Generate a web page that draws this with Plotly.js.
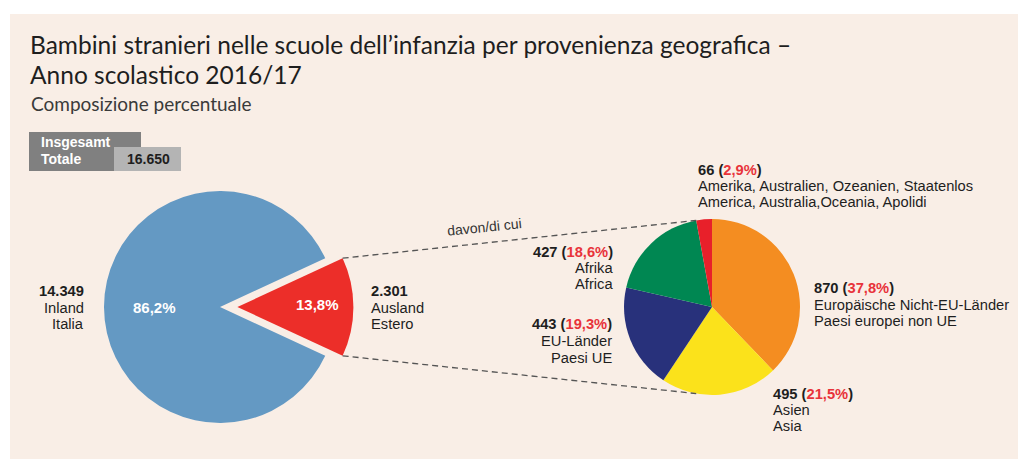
<!DOCTYPE html>
<html>
<head>
<meta charset="utf-8">
<script src="https://cdn.plot.ly/plotly-3.0.1.min.js"></script>
<style>html,body{margin:0;padding:0;background:#fff;}#chart{width:1018px;height:459px;}</style>
</head>
<body>
<div id="chart"></div>
<script>
// ---------- DATA ----------
const mainCategoriesDe = ['Inland', 'Ausland'];
const mainCategoriesIt = ['Italia', 'Estero'];
const mainValues = [14349, 2301];

const subCategoriesDe = ['Europäische Nicht-EU-Länder', 'Asien', 'EU-Länder', 'Afrika', 'Amerika, Australien, Ozeanien, Staatenlos'];
const subCategoriesIt = ['Paesi europei non UE', 'Asia', 'Paesi UE', 'Africa', 'America, Australia,Oceania, Apolidi'];
const subValues = [870, 495, 443, 427, 66];

const titleLines = ['Bambini stranieri nelle scuole dell’infanzia per provenienza geografica –', 'Anno scolastico 2016/17'];
const subtitleText = 'Composizione percentuale';
const totalLabelDe = 'Insgesamt';
const totalLabelIt = 'Totale';
const breakdownText = 'davon/di cui';

// ---------- STYLE / LAYOUT ----------
const W = 1018, H = 459;
const mainColors = ['#6499c3', '#ec2e29'];
const subColors = ['#f48d21', '#fbe21b', '#28317b', '#008752', '#e8202a'];
const pctRed = '#e8333a';
const labelFont = 'Liberation Sans, Arial, sans-serif';
const titleFont = 'Lato, Open Sans, sans-serif';
const labelSize = 14.7;

const main = {cx: 220, cy: 307, r: 116, pull: 0.15};
const sub = {cx: 712, cy: 307, r: 88};

function fx(x) { return x / W; }
function fy(y) { return 1 - y / H; }
function fmtInt(v) { return String(v).replace(/\B(?=(\d{3})+(?!\d))/g, '.'); }
function fmtPct(v, t) { return (100 * v / t).toFixed(1).replace('.', ',') + '%'; }

const mainTotal = mainValues.reduce((a, b) => a + b, 0);
const subTotal = subValues.reduce((a, b) => a + b, 0);

// Rotation so that the foreign share is centred at 3 o'clock
const shareForeign = mainValues[1] / mainTotal;
const mainRotation = 90 + 180 * shareForeign;

const mainSize = main.r * (1 + main.pull);
const traces = [
  {
    type: 'pie', values: mainValues, labels: mainCategoriesDe,
    marker: {colors: mainColors, line: {width: 0}},
    pull: [0, main.pull], sort: false, direction: 'clockwise', rotation: mainRotation,
    textinfo: 'none', hoverinfo: 'skip', showlegend: false,
    domain: {x: [fx(main.cx - mainSize), fx(main.cx + mainSize)], y: [fy(main.cy + mainSize), fy(main.cy - mainSize)]}
  },
  {
    type: 'pie', values: subValues, labels: subCategoriesDe,
    marker: {colors: subColors, line: {width: 0}},
    sort: false, direction: 'clockwise', rotation: 0,
    textinfo: 'none', hoverinfo: 'skip', showlegend: false,
    domain: {x: [fx(sub.cx - sub.r), fx(sub.cx + sub.r)], y: [fy(sub.cy + sub.r), fy(sub.cy - sub.r)]}
  }
];

// ---------- connector lines (from pie geometry) ----------
const halfAng = Math.PI * shareForeign; // half-angle of foreign slice
const tipX = main.cx + main.pull * main.r;
const p1 = [tipX + main.r * Math.cos(halfAng), main.cy - main.r * Math.sin(halfAng)];
const p2 = [tipX + main.r * Math.cos(halfAng), main.cy + main.r * Math.sin(halfAng)];
const lastAng = 2 * Math.PI * subValues[subValues.length - 1] / subTotal;
const q1 = [sub.cx - sub.r * Math.sin(lastAng), sub.cy - sub.r * Math.cos(lastAng)];
const q2 = [sub.cx - sub.r * Math.sin(lastAng), sub.cy + sub.r * Math.cos(lastAng)];

const shapes = [
  {type: 'rect', xref: 'paper', yref: 'paper', x0: fx(10), x1: fx(W), y0: fy(H), y1: fy(14), fillcolor: '#f9eee6', line: {width: 0}, layer: 'below'},
  {type: 'rect', xref: 'paper', yref: 'paper', x0: fx(29), x1: fx(141), y0: fy(171), y1: fy(132), fillcolor: '#808080', line: {width: 0}},
  {type: 'rect', xref: 'paper', yref: 'paper', x0: fx(114), x1: fx(181), y0: fy(171), y1: fy(147), fillcolor: '#b4b4b4', line: {width: 0}},
  {type: 'line', xref: 'paper', yref: 'paper', x0: fx(p1[0]), y0: fy(p1[1]), x1: fx(q1[0]), y1: fy(q1[1]), line: {color: '#555', width: 1.3, dash: '6px,4px'}},
  {type: 'line', xref: 'paper', yref: 'paper', x0: fx(p2[0]), y0: fy(p2[1]), x1: fx(q2[0]), y1: fy(q2[1]), line: {color: '#555', width: 1.3, dash: '6px,4px'}}
];

const annotations = [];
function ann(x, y, text, o) {
  o = o || {};
  annotations.push({
    xref: 'paper', yref: 'paper', x: fx(x), y: fy(y), text: text, showarrow: false,
    xanchor: o.xa || 'left', yanchor: 'middle', textangle: o.angle || 0,
    font: {family: o.family || labelFont, size: o.size || labelSize, color: o.color || '#1e1e1e'}
  });
}
function block(x, yList, xa, lines) {
  lines.forEach((t, i) => ann(x, yList[i], t, {xa: xa}));
}

// title + subtitle
ann(28, 45, titleLines[0], {family: titleFont, size: 24.5, color: '#1e1e1e'});
ann(28, 75, titleLines[1], {family: titleFont, size: 24.5, color: '#1e1e1e'});
ann(29, 104, subtitleText, {family: titleFont, size: 19, color: '#3a3a3a'});
// total box
ann(39, 142, '<b>' + totalLabelDe + '</b>', {size: 14, color: '#ffffff'});
ann(39, 159, '<b>' + totalLabelIt + '</b>', {size: 14, color: '#ffffff'});
ann(148, 159, '<b>' + fmtInt(mainTotal) + '</b>', {size: 14, color: '#1e1e1e', xa: 'center'});

// main pie labels
const mainLabelPos = [{x: 86, xa: 'right', y: [291, 308, 324]}, {x: 369, xa: 'left', y: [291, 308, 324]}];
mainValues.forEach((v, i) => {
  const p = mainLabelPos[i];
  block(p.x, p.y, p.xa, ['<b>' + fmtInt(v) + '</b>', mainCategoriesDe[i], mainCategoriesIt[i]]);
});
const mainPctPos = [[154, 307], [317, 304]];
mainValues.forEach((v, i) => ann(mainPctPos[i][0], mainPctPos[i][1], '<b>' + fmtPct(v, mainTotal) + '</b>', {xa: 'center', size: 15, color: '#ffffff'}));

// sub pie labels
const subLabelPos = [
  {x: 812, xa: 'left', y: [288, 305, 321]},
  {x: 771, xa: 'left', y: [394, 410, 426]},
  {x: 614, xa: 'right', y: [324, 341, 358]},
  {x: 615, xa: 'right', y: [252, 268, 284]},
  {x: 696, xa: 'left', y: [170, 186, 202]}
];
subValues.forEach((v, i) => {
  const p = subLabelPos[i];
  block(p.x, p.y, p.xa, ['<b>' + v + ' (<span style="color:' + pctRed + '">' + fmtPct(v, subTotal) + '</span>)</b>', subCategoriesDe[i], subCategoriesIt[i]]);
});

// "davon/di cui"
ann(484, 227, breakdownText, {xa: 'center', size: 14, color: '#333', angle: -6});

const layout = {
  width: W, height: H,
  margin: {l: 0, r: 0, t: 0, b: 0},
  paper_bgcolor: '#ffffff', plot_bgcolor: 'rgba(0,0,0,0)',
  shapes: shapes,
  annotations: annotations,
  showlegend: false
};

Plotly.newPlot('chart', traces, layout, {displayModeBar: false, staticPlot: true});
</script>
</body>
</html>
